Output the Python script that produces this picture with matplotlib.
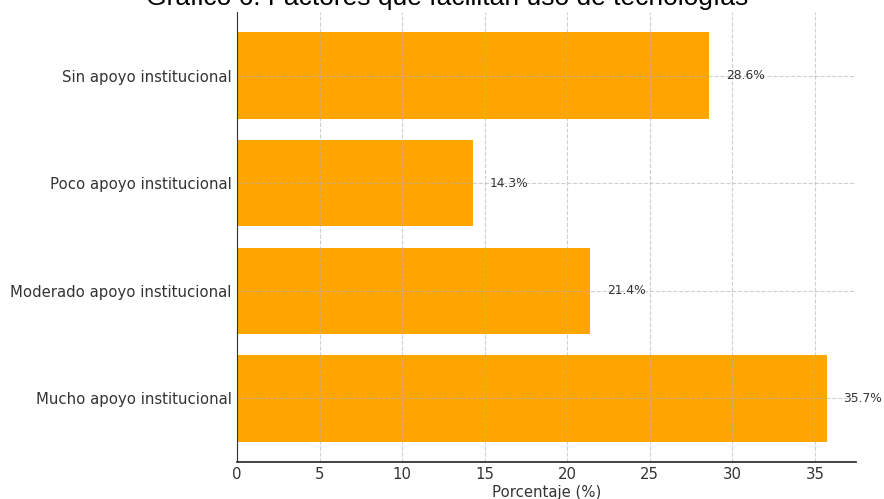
import matplotlib
matplotlib.use("Agg")
import matplotlib.pyplot as plt

# data, bottom to top
categories = ['Mucho apoyo institucional', 'Moderado apoyo institucional',
              'Poco apoyo institucional', 'Sin apoyo institucional']
percentages = [35.7, 21.4, 14.3, 28.6]
title = 'Gráfico 6: Factores que facilitan uso de tecnologías'
xlabel = 'Porcentaje (%)'

fig = plt.figure(figsize=(8.84, 4.99), dpi=100)
ax = fig.add_axes([237 / 884, 1 - 462 / 499, (856 - 237) / 884, (462 - 12) / 499])

bars = ax.barh(categories, percentages, color='#FFA500', height=0.8)

for bar, val in zip(bars, percentages):
    ax.text(bar.get_width() + 1, bar.get_y() + bar.get_height() / 2, f'{val}%',
            va='center', ha='left', fontsize=8.8, color='#333333')

ax.grid(True, linestyle='--', color='#b0b0b0', alpha=0.6, linewidth=0.8)
ax.spines['top'].set_visible(False)
ax.spines['right'].set_visible(False)
ax.spines['bottom'].set_linewidth(1.3)
ax.spines['bottom'].set_color('#333333')
ax.spines['left'].set_color('#333333')
ax.tick_params(axis='both', labelsize=10.7, labelcolor='#333333', length=0, pad=3.8)
ax.set_xlabel(xlabel, fontsize=10.7, color='#333333', labelpad=2)

fig.text(0.506, 1 - 5 / 499, title, ha='center', va='baseline',
         fontsize=19, family='Liberation Sans')

fig.savefig('out.png', dpi=100)
print('Saved out.png')
